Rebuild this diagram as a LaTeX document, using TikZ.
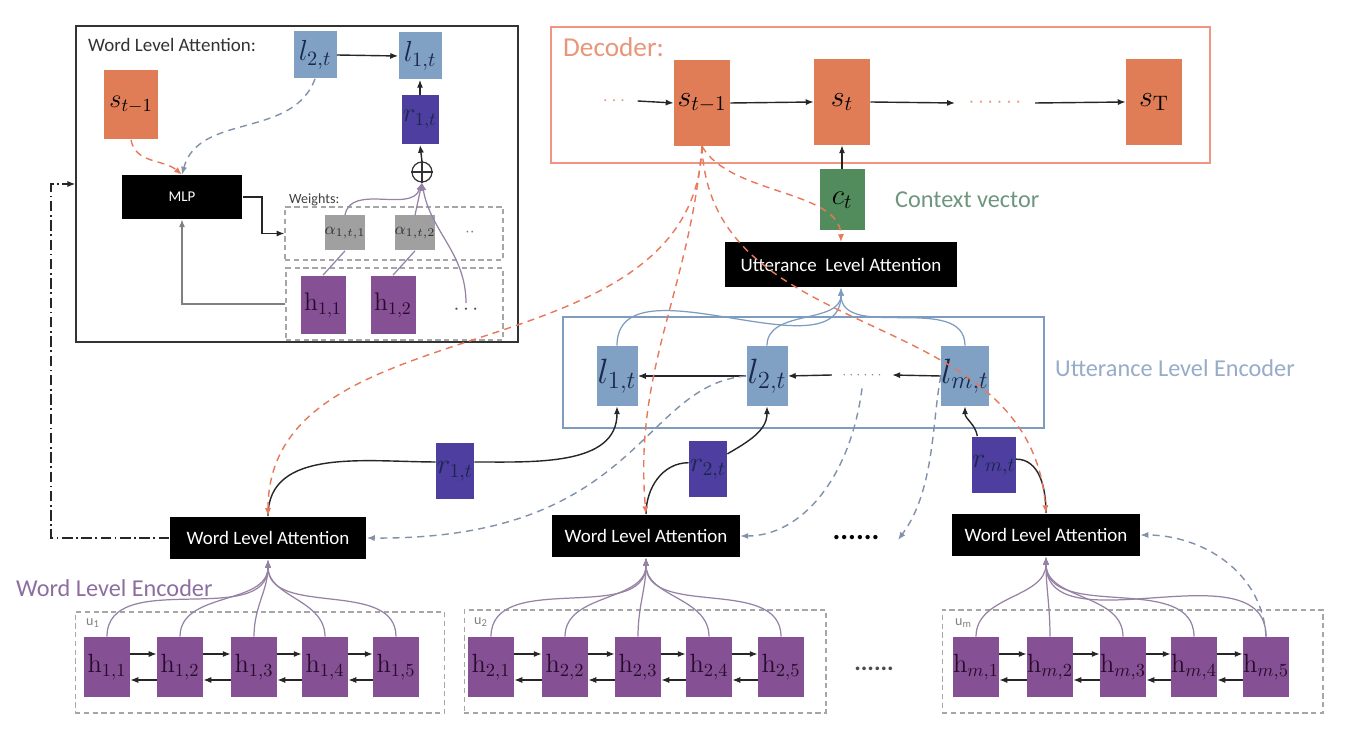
\documentclass[tikz,border=0pt]{standalone}
\usepackage{fix-cm}
\usepackage[no-math]{fontspec}
\setmainfont{Carlito}
\usetikzlibrary{arrows.meta}
\definecolor{sorange}{RGB}{224,124,86}
\definecolor{lblue}{RGB}{128,160,196}
\definecolor{rblue}{RGB}{78,62,160}
\definecolor{hpurple}{RGB}{134,80,148}
\definecolor{cgreen}{RGB}{82,140,92}
\definecolor{agray}{RGB}{160,160,160}
\definecolor{dectext}{RGB}{232,150,120}
\definecolor{decline}{RGB}{238,150,130}
\definecolor{ctxtext}{RGB}{110,150,125}
\definecolor{ulecolor}{RGB}{126,155,192}
\definecolor{uletext}{RGB}{150,172,200}
\definecolor{wletext}{RGB}{140,110,160}
\definecolor{dashblue}{RGB}{130,145,170}
\definecolor{dashorange}{RGB}{232,120,90}
\definecolor{hcurve}{RGB}{150,130,165}
\definecolor{ltext}{RGB}{25,40,75}
\newcommand{\setfs}[1]{\fontsize{#1pt}{#1pt}\selectfont}

\begin{document}
\begin{tikzpicture}[x=0.02cm,y=-0.02cm,
   arr/.style={-{Latex[length=4.5pt,width=3.5pt]}},
   sbox/.style={fill=sorange,inner sep=0,minimum width=1.12cm,minimum height=1.72cm,font=\setfs{17}},
   lbox/.style={fill=lblue,inner sep=0,minimum width=0.82cm,minimum height=1.2cm,text=ltext,font=\setfs{20}},
   rbox/.style={fill=rblue,inner sep=0,minimum width=0.76cm,minimum height=1.14cm,text=ltext,font=\setfs{16}},
   hbox/.style={fill=hpurple,inner sep=0,minimum width=0.92cm,minimum height=1.2cm,text={rgb,255:red,40;green,12;blue,45},font=\setfs{15}},
   abox/.style={fill=agray,inner sep=0,minimum width=0.74cm,minimum height=0.7cm,text=black!80,font=\setfs{9.5}},
   blackbox/.style={fill=black,text=white,inner sep=0,minimum height=0.86cm,font=\setfs{10.8}},
   frame/.style={draw=gray!70,dash pattern=on 3pt off 2pt,line width=0.6pt,inner sep=0},
   link/.style={draw=black!85,line width=0.8pt},
   hlink/.style={draw=hcurve,line width=0.7pt},
   odash/.style={draw=dashorange,dash pattern=on 4pt off 3pt,line width=0.8pt,arr},
   bdash/.style={draw=dashblue,dash pattern=on 4pt off 3pt,line width=0.8pt,arr}]
\fill[white] (0,0) rectangle (1355,732);
\useasboundingbox (0,0) rectangle (1355,732);

\node[draw=black!80,line width=0.8pt,minimum width=8.84cm,minimum height=6.32cm] (wlabox) at (297,184) {};
\node[anchor=west,text=black!80,font=\setfs{10.8}] (wlatitle) at (82,45) {Word Level Attention:};
\node[sbox,minimum width=1.08cm,minimum height=1.38cm,font=\setfs{15}] (si) at (131,105) {$s_{t-1}$};
\node[lbox,minimum width=0.86cm,minimum height=0.94cm,font=\setfs{16.5}] (l2i) at (315,55) {$l_{2,t}$};
\node[lbox,minimum width=0.86cm,minimum height=0.94cm,font=\setfs{16.5}] (l1i) at (420,56) {$l_{1,t}$};
\node[rbox,minimum width=0.74cm,minimum height=0.98cm,font=\setfs{15}] (r1i) at (420,120) {$r_{1,t}$};
\node[circle,draw=black!80,line width=0.7pt,minimum size=0.4cm,inner sep=0] (op) at (422,172) {};
\node[blackbox,minimum width=2.42cm,minimum height=0.88cm,font=\setfs{8.5}] (mlp) at (182,197) {MLP};
\node[anchor=west,font=\setfs{8},text=black!75] (wts) at (283,200) {Weights:};
\node[frame] (wframe) at (394,233.5) [minimum width=4.36cm,minimum height=1.06cm] {};
\node[frame] (hframe) at (394.5,304) [minimum width=4.34cm,minimum height=1.44cm] {};
\node[abox] (a1) at (345,233) {$\alpha_{1,t,1}$};
\node[abox] (a2) at (415,233) {$\alpha_{1,t,2}$};
\node[text=gray,font=\setfs{10}] (adots) at (470,233) {$\cdot\cdot$};
\node[hbox,minimum width=0.9cm,minimum height=1.18cm,font=\setfs{14.5}] (h11i) at (323,305) {$\mathrm{h}_{1,1}$};
\node[hbox,minimum width=0.9cm,minimum height=1.18cm,font=\setfs{14.5}] (h12i) at (393,305) {$\mathrm{h}_{1,2}$};
\node[text=black!70,font=\setfs{12},inner sep=1pt] (hdots) at (466,310) {$\cdots$};

\draw[link,arr] (l2i.east) -- (l1i.west);
\draw[link,arr] (r1i.north) -- (l1i.south);
\draw[link,arr] (op.north) -- (r1i.south);
\draw[black!80,line width=0.7pt] (op.north) -- (op.south) (op.west) -- (op.east);
\draw[link,arr] (mlp.east) -- ++(19,0) |- (wframe.west);
\draw[hlink,draw=gray,arr] (hframe.west) -| (mlp.south);
\draw[hlink] (h11i.north) -- (a1.south);
\draw[hlink] (h12i.north) -- (a2.south);
\draw[hlink,arr] (a1.north) to[out=80,in=-110] (op.south);
\draw[hlink,arr] (a2.north) -- (op.south);
\draw[hlink,arr] (hdots.north) to[out=90,in=-80] (op.south);
\draw[odash] (si.south) to[out=-80,in=140] (mlp.north);
\draw[bdash] (l2i.south) to[out=-110,in=75] (mlp.north);

\node[draw=decline,line width=0.8pt,minimum width=13.18cm,minimum height=2.72cm] (decbox) at (880.5,95) {};
\node[anchor=west,text=dectext,font=\setfs{15.5}] (declab) at (557,47) {Decoder:};
\node[sbox] (sd1) at (702,103) {$s_{t-1}$};
\node[sbox] (sd2) at (842,102) {$s_t$};
\node[sbox] (sdT) at (1154,102) {$s_{\mathrm{T}}$};
\node[text=dectext,font=\setfs{11},inner sep=6.8pt] (dl) at (614,101) {$\cdots$};
\node[text=dectext,font=\setfs{12},inner sep=7.6pt] (dr) at (995,103) {$\cdots\cdots$};
\node[fill=cgreen,inner sep=0,minimum width=0.9cm,minimum height=1.22cm,font=\setfs{16.5}] (ct) at (842,200) {$c_t$};
\node[anchor=west,text=ctxtext,font=\setfs{13.8}] (ctxlab) at (889,200) {Context vector};
\node[blackbox,minimum width=4.66cm,minimum height=0.9cm] (ula) at (841,265) {Utterance\ \ Level Attention};

\draw[link,arr] (dl.east) -- (sd1.west);
\draw[link,arr] (sd1.east) -- (sd2.west);
\draw[link,arr] (sd2.east) -- (dr.west);
\draw[link,arr] (dr.east) -- (sdT.west);
\draw[link,arr] (ct.north) -- (sd2.south);

\node[draw=ulecolor,line width=1.4pt,minimum width=9.62cm,minimum height=2.22cm] (ulebox) at (803.5,372.5) {};
\node[anchor=west,text=uletext,font=\setfs{13.8}] (ulelab) at (1049,368) {Utterance Level Encoder};
\node[lbox] (l1) at (617,376) {$l_{1,t}$};
\node[lbox] (l2) at (767,376) {$l_{2,t}$};
\node[lbox,minimum width=0.94cm] (lm) at (965,376) {$l_{m,t}$};
\node[text=gray,font=\setfs{7.5},inner sep=5.7pt] (ldots) at (862,375) {$\cdots\cdots$};
\node[rbox] (r1) at (455,471) {$r_{1,t}$};
\node[rbox] (r2) at (708,469) {$r_{2,t}$};
\node[rbox] (rm) at (994,465) {$r_{m,t}$};

\draw[link,arr] (l2.west) -- (l1.east);
\draw[link,arr] (ldots.west) -- (l2.east);
\draw[link,arr] (lm.west) -- (ldots.east);
\foreach \n in {l1,l2,lm}
   \draw[draw=ulecolor,line width=0.7pt,arr] (\n.north) to[out=90,in=-90] (ula.south);

\node[blackbox,minimum width=3.94cm] (wla1) at (268,538) {Word Level Attention};
\node[blackbox,minimum width=3.76cm] (wla2) at (646,536) {Word Level Attention};
\node[blackbox,minimum width=3.76cm] (wlam) at (1046,535) {Word Level Attention};
\node[anchor=base,font=\bfseries\setfs{16.6}] (wdots) at (856,540) {......};
\node[anchor=west,text=wletext,font=\setfs{13.8}] (wlelab) at (10,588) {Word Level Encoder};

\draw[link] (wla1.north) to[out=90,in=180] (r1.155);
\draw[link,arr] (r1.25) to[out=0,in=-90] (l1.south);
\draw[link] (wla2.north) to[out=90,in=180] (r2.162);
\draw[link,arr] (r2.38) to[out=30,in=-90] (l2.south);
\draw[link] (wlam.north) to[out=90,in=0] (rm.15);
\draw[link,arr] (rm.120) to[out=100,in=-90] (lm.south);
\draw[black!85,line width=0.8pt,dash pattern=on 6pt off 2pt on 1pt off 2pt,arr] (wla1.west) -- ++(-118,0) |- (wlabox.west);

\node[frame,minimum width=7.40cm,minimum height=2.02cm] (uframe1) at (260,662.5) {};
\node[frame,minimum width=7.24cm,minimum height=2.06cm] (uframe2) at (645,661.5) {};
\node[frame,minimum width=7.62cm,minimum height=2.06cm] (uframem) at (1132.5,661.5) {};
\node[anchor=west,text=gray,font=\setfs{8}] (ulab1) at (80,623) {u\textsubscript{1}};
\node[anchor=west,text=gray,font=\setfs{8}] (ulab2) at (468,622) {u\textsubscript{2}};
\node[anchor=west,text=gray,font=\setfs{8}] (ulabm) at (949,623) {u\textsubscript{m}};
\node[anchor=base,text=black!70,font=\bfseries\setfs{14}] (edots) at (874,670) {......};

\foreach \i/\x in {1/107,2/180,3/254,4/325,5/396}
   \node[hbox] (h1\i) at (\x,667) {$\mathrm{h}_{1,\i}$};
\foreach \i/\x in {1/491,2/565,3/638,4/709,5/781}
   \node[hbox] (h2\i) at (\x,667) {$\mathrm{h}_{2,\i}$};
\foreach \i/\x in {1/976,2/1050,3/1123,4/1194,5/1266}
   \node[hbox] (hm\i) at (\x,667) {$\mathrm{h}_{m,\i}$};

\foreach \g in {1,2,m} {
   \foreach \i/\j in {1/2,2/3,3/4,4/5} {
      \draw[link,arr] ([yshift=2.6mm]h\g\i.east) -- ([yshift=2.6mm]h\g\j.west);
      \draw[link,arr] ([yshift=-2.6mm]h\g\j.west) -- ([yshift=-2.6mm]h\g\i.east);
   }
   \foreach \i in {1,...,5}
      \draw[hlink,arr] (h\g\i.north) to[out=90,in=-90] (wla\g.south);
}

\draw[odash] (sd1.south) .. controls (694,380) and (268,300) .. (wla1.north);
\draw[odash] (sd1.south) to[out=-95,in=95] (wla2.north);
\draw[odash] (sd1.south) .. controls (730,195) and (840,190) .. (ula.north);
\draw[odash] (sd1.south) .. controls (710,350) and (1030,300) .. (wlam.north);

\coordinate (dend) at (898,540);
\draw[bdash] (l2.west) .. controls (640,385) and (640,540) .. (wla1.east);
\draw[bdash] (ldots.south) .. controls (850,480) and (800,536) .. (wla2.east);
\draw[bdash] (lm.west) .. controls (932,420) and (935,490) .. (dend);
\draw[bdash] (hm5.north) .. controls (1262,570) and (1200,535) .. (wlam.east);
\end{tikzpicture}
\end{document}
